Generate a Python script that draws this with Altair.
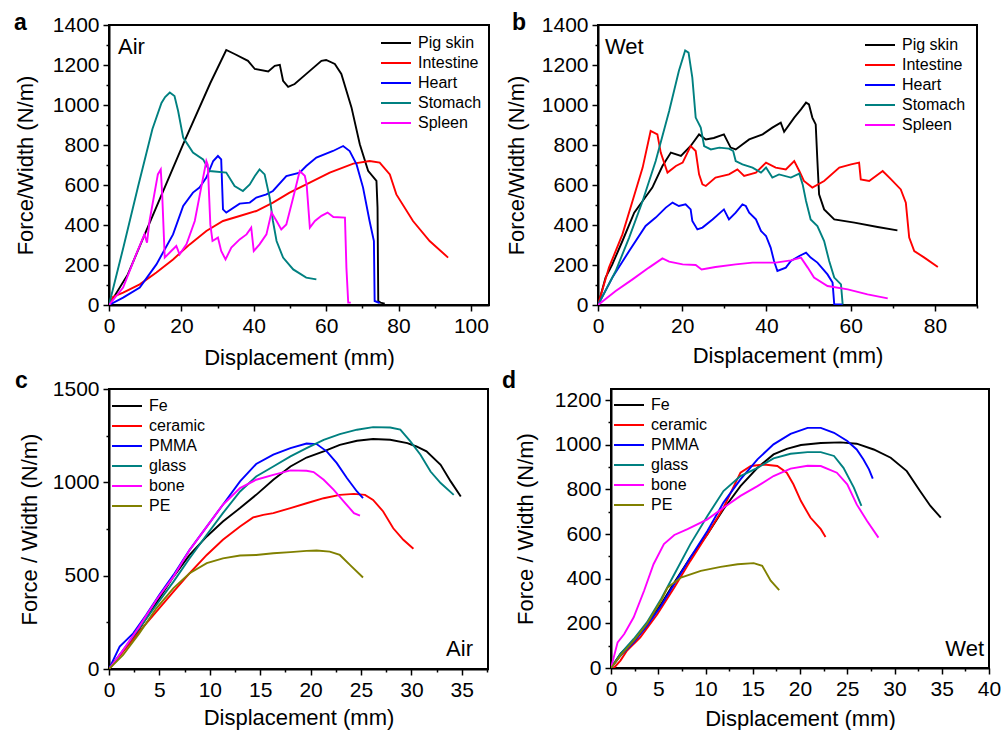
import altair as alt
import pandas as pd

FONT = "Liberation Sans"

# ---------------- Panel a : Air, tissues ----------------
A_PIG_X = [0, 5.2, 9.9, 20.5, 28, 32.4, 34.7, 38.4, 40.3, 44, 45.8, 47.2, 48.1, 49.5, 51.3, 55, 58.7, 60, 62.4, 64.2, 67, 69.3, 71.6, 73.9, 74.2, 74.4, 75.0, 76.2]
A_PIG_Y = [0, 153, 354, 804, 1110, 1275, 1255, 1221, 1180, 1168, 1196, 1201, 1121, 1091, 1105, 1163, 1221, 1225, 1205, 1155, 988, 804, 671, 621, 487, 20, 12, 7]
A_INT_X = [0, 1.1, 3.9, 8.5, 13.1, 17.7, 22.3, 26.9, 31.5, 36.1, 40.7, 45.3, 49.9, 54.5, 61, 67.5, 72, 74.8, 77.6, 79.4, 84, 88.6, 93.7]
A_INT_Y = [0, 40, 62, 103, 162, 228, 303, 370, 420, 445, 470, 512, 562, 603, 662, 707, 720, 712, 653, 553, 420, 320, 237]
A_HEA_X = [0, 3.9, 8.5, 13.1, 17.7, 20.5, 23.2, 25, 26.9, 28.8, 30.1, 31, 31.5, 32.4, 36.1, 38.9, 40.7, 43.5, 45.3, 49, 52.7, 54.5, 57.3, 61.9, 64.7, 66.5, 68.4, 70.2, 72, 73.2, 73.4, 74.8]
A_HEA_Y = [0, 37, 87, 203, 353, 495, 562, 587, 637, 720, 745, 728, 478, 462, 507, 512, 537, 553, 570, 645, 662, 695, 737, 770, 795, 770, 703, 587, 420, 320, 20, 10]
A_STO_X = [0, 4, 8, 12, 14.5, 15.5, 16.8, 18.1, 19.1, 20.5, 23.2, 26, 27.8, 32.4, 34.7, 37, 38.9, 40.3, 41.6, 43, 44.4, 45.3, 46.3, 48.1, 50.9, 54.5, 57.3]
A_STO_Y = [0, 290, 590, 880, 1010, 1040, 1062, 1045, 970, 837, 762, 728, 670, 662, 595, 570, 603, 645, 678, 653, 537, 420, 320, 237, 178, 137, 128]
A_SPL_X = [0, 3.9, 7.5, 9.8, 10.5, 11.2, 13.5, 14.3, 14.7, 15.4, 17.2, 18.6, 19.5, 21.4, 23.7, 26, 26.9, 27.3, 28, 28.6, 30.1, 31, 32.2, 33.8, 36.1, 38, 39.3, 40, 41.6, 43.5, 44.9, 46.3, 47.6, 49, 50.9, 52.7, 54.1, 54.6, 55.5, 56.9, 58.7, 60.4, 62, 65.2, 65.6, 66.1, 66.8]
A_SPL_Y = [0, 87, 253, 353, 312, 420, 653, 678, 553, 237, 270, 295, 253, 303, 420, 637, 720, 700, 403, 320, 337, 270, 228, 287, 328, 353, 387, 270, 303, 353, 462, 420, 378, 403, 537, 670, 646, 604, 387, 420, 446, 462, 440, 437, 187, 12, 12]

# ---------------- Panel b : Wet, tissues ----------------
B_PIG_X = [0, 1.8, 3.4, 5.8, 8.6, 10.6, 12.9, 15.3, 17.3, 19.7, 22, 24, 25.6, 27.5, 29.9, 31.5, 32.7, 35.9, 39.1, 41.4, 43.4, 44.2, 46.6, 48.2, 49.4, 50.1, 50.9, 51.7, 52.1, 52.5, 53.7, 56.1, 60.9, 66.4, 71.1]
B_PIG_Y = [0, 137, 203, 320, 462, 520, 587, 695, 762, 745, 795, 853, 828, 835, 853, 787, 778, 828, 853, 887, 912, 866, 937, 978, 1012, 1003, 937, 903, 720, 553, 478, 428, 412, 390, 373]
B_INT_X = [0, 2.6, 5.8, 8.2, 10.6, 12.5, 14.1, 14.9, 16.5, 18.5, 20.1, 22, 23.2, 24, 24.8, 25.6, 27.9, 31.1, 33.1, 34.7, 37.5, 39.9, 42.2, 44.6, 46.6, 47.8, 48.9, 50.9, 53.7, 57.3, 60.1, 62, 62.4, 64.4, 67.6, 69.6, 71.9, 73.1, 73.9, 75.1, 77.5, 80.7]
B_INT_Y = [0, 187, 353, 520, 687, 870, 853, 762, 662, 695, 712, 795, 770, 653, 603, 595, 637, 653, 678, 645, 662, 712, 687, 678, 720, 670, 620, 587, 620, 687, 703, 712, 628, 620, 670, 628, 578, 512, 337, 270, 237, 190]
B_HEA_X = [0, 3.4, 7.4, 11.3, 13.7, 16.1, 17.7, 19.2, 20.8, 22, 22.4, 23.6, 24.8, 27.2, 29.9, 31.1, 32.7, 34.3, 35.1, 35.9, 37.5, 38.7, 39.9, 41, 41.8, 42.6, 44.6, 45.8, 47.8, 49.4, 50.5, 52.1, 54.5, 55.7, 56.1, 58.1]
B_HEA_Y = [0, 137, 270, 395, 437, 487, 512, 495, 503, 478, 420, 378, 387, 428, 478, 428, 462, 503, 495, 462, 428, 370, 345, 287, 220, 170, 187, 220, 245, 262, 237, 212, 153, 112, 3, 3]
B_STO_X = [0, 4.2, 7.4, 10.6, 13.7, 16.9, 19.2, 20.7, 21.5, 22.4, 23.2, 24.4, 25.2, 26.8, 28.8, 31.1, 32.1, 32.7, 34.3, 36.7, 38.7, 39.9, 41.4, 43, 45.8, 47.8, 48.6, 49.4, 50.5, 52.1, 53.7, 54.9, 56.1, 57.7, 58.1]
B_STO_Y = [0, 170, 337, 520, 720, 970, 1170, 1273, 1262, 1137, 937, 887, 795, 778, 787, 782, 770, 720, 703, 687, 662, 687, 637, 653, 637, 657, 603, 520, 428, 395, 320, 220, 137, 103, 3]
B_SPL_X = [0, 4.2, 8.2, 12.1, 15.3, 16.9, 20.1, 23.2, 24.6, 27.9, 32.7, 36.7, 42.2, 45.8, 48.2, 49.8, 51.3, 54.5, 59.3, 64, 68.8]
B_SPL_Y = [0, 70, 128, 187, 233, 217, 203, 200, 178, 190, 203, 212, 212, 223, 237, 187, 137, 95, 78, 53, 33]

# ---------------- Panel c : Air, substrates ----------------
C_FE_X = [0, 1.06, 2.4, 3.7, 5, 6.4, 8, 9.7, 11.3, 13, 14.6, 16.3, 18, 19.6, 21.3, 22.9, 24.6, 26.2, 27.9, 29.6, 30.5, 31.5, 32.9, 33.9, 34.9]
C_FE_Y = [0, 75, 164, 272, 379, 495, 611, 710, 790, 862, 933, 1014, 1085, 1133, 1166, 1201, 1223, 1232, 1228, 1210, 1192, 1166, 1094, 1005, 924]
C_CER_X = [0, 1.4, 3, 4.7, 6.4, 8, 9.7, 11.3, 13, 14.3, 15.3, 16.3, 18, 19.6, 21.3, 22.9, 24.3, 25.4, 26.2, 27.2, 28.2, 29.2, 30.2]
C_CER_Y = [0, 93, 200, 307, 415, 513, 611, 692, 763, 812, 826, 835, 862, 888, 915, 933, 938, 933, 906, 844, 754, 692, 644]
C_PMMA_X = [0, 1.06, 2.4, 3.7, 5, 6.4, 8, 9.7, 11.3, 13, 14.6, 16.3, 18, 19.6, 20.6, 21.6, 22.6, 23.6, 24.6, 25.2]
C_PMMA_Y = [0, 120, 191, 290, 397, 504, 638, 763, 880, 1005, 1098, 1148, 1183, 1208, 1205, 1166, 1103, 1023, 951, 915]
C_GLA_X = [0, 1.4, 3, 4.7, 6.4, 8, 9.7, 11.3, 13, 14.6, 16.3, 18, 19.6, 21.3, 22.9, 24.6, 26.2, 27.9, 28.9, 29.9, 30.9, 31.9, 32.9, 34.2]
C_GLA_Y = [0, 102, 218, 343, 468, 593, 719, 835, 951, 1031, 1085, 1139, 1183, 1228, 1258, 1282, 1296, 1294, 1282, 1219, 1148, 1058, 996, 933]
C_BON_X = [0, 1.4, 3, 4.7, 6.4, 8, 9.7, 11.3, 13, 14.6, 16.3, 18, 19.6, 20.3, 21.3, 22.3, 23.3, 24.3, 24.9]
C_BON_Y = [0, 102, 227, 370, 495, 638, 763, 880, 969, 1014, 1040, 1064, 1062, 1055, 1014, 960, 897, 835, 822]
C_PE_X = [0, 1.4, 3, 4.7, 6.4, 8, 9.7, 11.3, 13, 14.6, 16.3, 18, 19.6, 20.6, 21.9, 22.9, 23.9, 25.2]
C_PE_Y = [0, 75, 191, 325, 433, 513, 567, 593, 608, 611, 620, 626, 633, 635, 629, 611, 558, 490]

# ---------------- Panel d : Wet, substrates ----------------
D_FE_X = [0, 1, 2.4, 3.8, 5.3, 6.7, 8.4, 10.2, 11.9, 13.7, 15.5, 17.2, 18.6, 20.1, 22.2, 24.3, 26, 27.8, 29.6, 31.3, 32.7, 33.8, 34.9]
D_FE_Y = [0, 63, 122, 197, 286, 383, 495, 599, 711, 815, 897, 957, 982, 999, 1008, 1011, 1005, 979, 942, 882, 793, 726, 674]
D_CER_X = [0, 0.3, 1, 1.7, 3.1, 4.9, 6.7, 8.4, 10.2, 11.9, 13.7, 14.8, 16.2, 17.6, 18.6, 19.3, 20.1, 21.1, 22.2, 22.7]
D_CER_Y = [0, 0, 33, 78, 137, 241, 361, 480, 599, 718, 875, 905, 912, 905, 875, 823, 748, 674, 622, 587]
D_PMMA_X = [0, 1, 2.4, 3.8, 5.3, 6.7, 8.4, 10.2, 11.9, 13.7, 15.5, 17.2, 19, 20.8, 22.2, 23.6, 25, 26, 26.7, 27.3, 27.7]
D_PMMA_Y = [0, 55, 115, 189, 279, 376, 495, 614, 741, 845, 935, 1002, 1049, 1076, 1076, 1054, 1017, 979, 935, 890, 848]
D_GLA_X = [0, 1, 2.4, 3.8, 5.3, 6.7, 8.4, 10.2, 11.9, 13.7, 15.5, 17.2, 19, 20.8, 22.2, 23.6, 24.6, 25.7, 26.5]
D_GLA_Y = [0, 63, 130, 204, 309, 420, 555, 681, 793, 860, 897, 939, 960, 967, 967, 950, 897, 808, 726]
D_BON_X = [0, 0.7, 1.4, 2.4, 3.5, 4.5, 5.6, 6.7, 8.1, 10.2, 11.9, 13.7, 15.5, 17.2, 19, 20.8, 22.2, 23.9, 25, 26, 27.1, 28.3]
D_BON_Y = [0, 115, 152, 227, 346, 465, 555, 596, 622, 666, 718, 771, 815, 860, 893, 906, 905, 875, 823, 733, 659, 584]
D_PE_X = [0, 1, 2.4, 3.8, 5.3, 6, 7.4, 9.5, 11.6, 13.4, 15.1, 16, 16.9, 17.8]
D_PE_Y = [0, 55, 122, 197, 301, 361, 405, 435, 453, 465, 470, 458, 391, 349]

TISSUES = ["Pig skin", "Intestine", "Heart", "Stomach", "Spleen"]
SUBSTRATES = ["Fe", "ceramic", "PMMA", "glass", "bone", "PE"]
TISSUE_COLORS = ["#000000", "#FF0000", "#0000FF", "#008080", "#FF00FF"]
SUBSTRATE_COLORS = ["#000000", "#FF0000", "#0000FF", "#008080", "#FF00FF", "#808000"]


def frame(names, xs, ys):
    rows = []
    for n, xl, yl in zip(names, xs, ys):
        for i, (xv, yv) in enumerate(zip(xl, yl)):
            rows.append({"series": n, "x": xv, "y": yv, "i": i})
    return pd.DataFrame(rows)


def ticks(lo, hi, step):
    out = []
    v = lo
    while v <= hi + 1e-9:
        out.append(round(v, 4))
        v += step
    return out


def axis(title, values, major, tpad):
    return alt.Axis(
        title=title, values=values, format="d",
        labelExpr=f"datum.value % {major} === 0 ? datum.label : ''",
        tickSize={"condition": {"test": f"datum.value % {major} === 0", "value": 6}, "value": 3},
        labelFont=FONT, labelFontSize=21, labelColor="black", labelPadding=4,
        labelOverlap=False, labelFlush=False,
        titleFont=FONT, titleFontSize=22, titleFontWeight="normal", titleColor="black",
        titlePadding=tpad, grid=False, domainColor="black", domainWidth=2,
        tickColor="black", tickWidth=1.5,
    )


def panel(df, names, colors, xdom, ydom, xvals, xmaj, yvals, ymaj, w, h, ytitle,
          ytpad, xtpad, legx, legy, cond, cond_x, cond_y, cond_align, letter, let_x, let_y):
    lines = alt.Chart(df).mark_line(strokeWidth=1.9, clip=True).encode(
        x=alt.X("x:Q", scale=alt.Scale(domain=xdom, nice=False, zero=False),
                axis=axis("Displacement (mm)", xvals, xmaj, xtpad)),
        y=alt.Y("y:Q", scale=alt.Scale(domain=ydom, nice=False, zero=False),
                axis=axis(ytitle, yvals, ymaj, ytpad)),
        color=alt.Color("series:N", scale=alt.Scale(domain=names, range=colors),
                        legend=alt.Legend(title=None, orient="none", legendX=legx + 4, legendY=legy,
                                          symbolType="M-3,0L3,0", symbolSize=100, symbolStrokeWidth=2,
                                          labelFont=FONT, labelFontSize=16, labelColor="black",
                                          labelOffset=14, rowPadding=4, padding=0)),
        order=alt.Order("i:Q"),
        detail="series:N",
    )
    cond_txt = alt.Chart(pd.DataFrame({"t": [cond]})).mark_text(
        font=FONT, fontSize=22, align=cond_align, baseline="alphabetic", color="black"
    ).encode(text="t:N", x=alt.value(cond_x), y=alt.value(cond_y))
    let_txt = alt.Chart(pd.DataFrame({"t": [letter]})).mark_text(
        font=FONT, fontSize=23, fontWeight="bold", align="left", baseline="alphabetic", color="black"
    ).encode(text="t:N", x=alt.value(let_x), y=alt.value(let_y))
    return alt.layer(lines, cond_txt, let_txt).properties(width=w, height=h)


dfa = frame(TISSUES, [A_PIG_X, A_INT_X, A_HEA_X, A_STO_X, A_SPL_X], [A_PIG_Y, A_INT_Y, A_HEA_Y, A_STO_Y, A_SPL_Y])
dfb = frame(TISSUES, [B_PIG_X, B_INT_X, B_HEA_X, B_STO_X, B_SPL_X], [B_PIG_Y, B_INT_Y, B_HEA_Y, B_STO_Y, B_SPL_Y])
dfc = frame(SUBSTRATES, [C_FE_X, C_CER_X, C_PMMA_X, C_GLA_X, C_BON_X, C_PE_X], [C_FE_Y, C_CER_Y, C_PMMA_Y, C_GLA_Y, C_BON_Y, C_PE_Y])
dfd = frame(SUBSTRATES, [D_FE_X, D_CER_X, D_PMMA_X, D_GLA_X, D_BON_X, D_PE_X], [D_FE_Y, D_CER_Y, D_PMMA_Y, D_GLA_Y, D_BON_Y, D_PE_Y])

pa = panel(dfa, TISSUES, TISSUE_COLORS, [0, 105], [0, 1400], ticks(0, 100, 10), 20, ticks(0, 1400, 100), 200,
           380, 280, "Force/Width (N/m)", 15, 11, 275, 10, "Air", 9, 29, "left", "a", -95, 5)
pb = panel(dfb, TISSUES, TISSUE_COLORS, [0, 90], [0, 1400], ticks(0, 90, 10), 20, ticks(0, 1400, 100), 200,
           379, 280, "Force/Width (N/m)", 13, 9, 270, 12, "Wet", 7, 29, "left", "b", -86, 5)
pc = panel(dfc, SUBSTRATES, SUBSTRATE_COLORS, [0, 37.6], [0, 1500], ticks(0, 37.5, 2.5), 5, ticks(0, 1500, 250), 500,
           379, 280, "Force / Width (N/m)", 11, 7, 6, 9, "Air", 364, 267, "right", "c", -94, -1)
pd_ = panel(dfd, SUBSTRATES, SUBSTRATE_COLORS, [0, 40], [0, 1250], ticks(0, 40, 2.5), 5, ticks(0, 1200, 100), 200,
            378, 279, "Force / Width (N/m)", 17, 9, 6, 8, "Wet", 373, 267, "right", "d", -109, -1)

row1 = alt.hconcat(pa, pb, spacing=14).resolve_scale(color="independent")
row2 = alt.hconcat(pc, pd_, spacing=12).resolve_scale(color="independent")

chart = alt.vconcat(row1, row2, spacing=0).resolve_scale(color="independent").properties(
    padding={"left": 13, "top": 11, "right": 0, "bottom": 0},
    background="white",
).configure_view(stroke="black", strokeWidth=2).configure_concat(spacing=0)

chart.save("out.html", embed_options={"renderer": "svg", "actions": False})
